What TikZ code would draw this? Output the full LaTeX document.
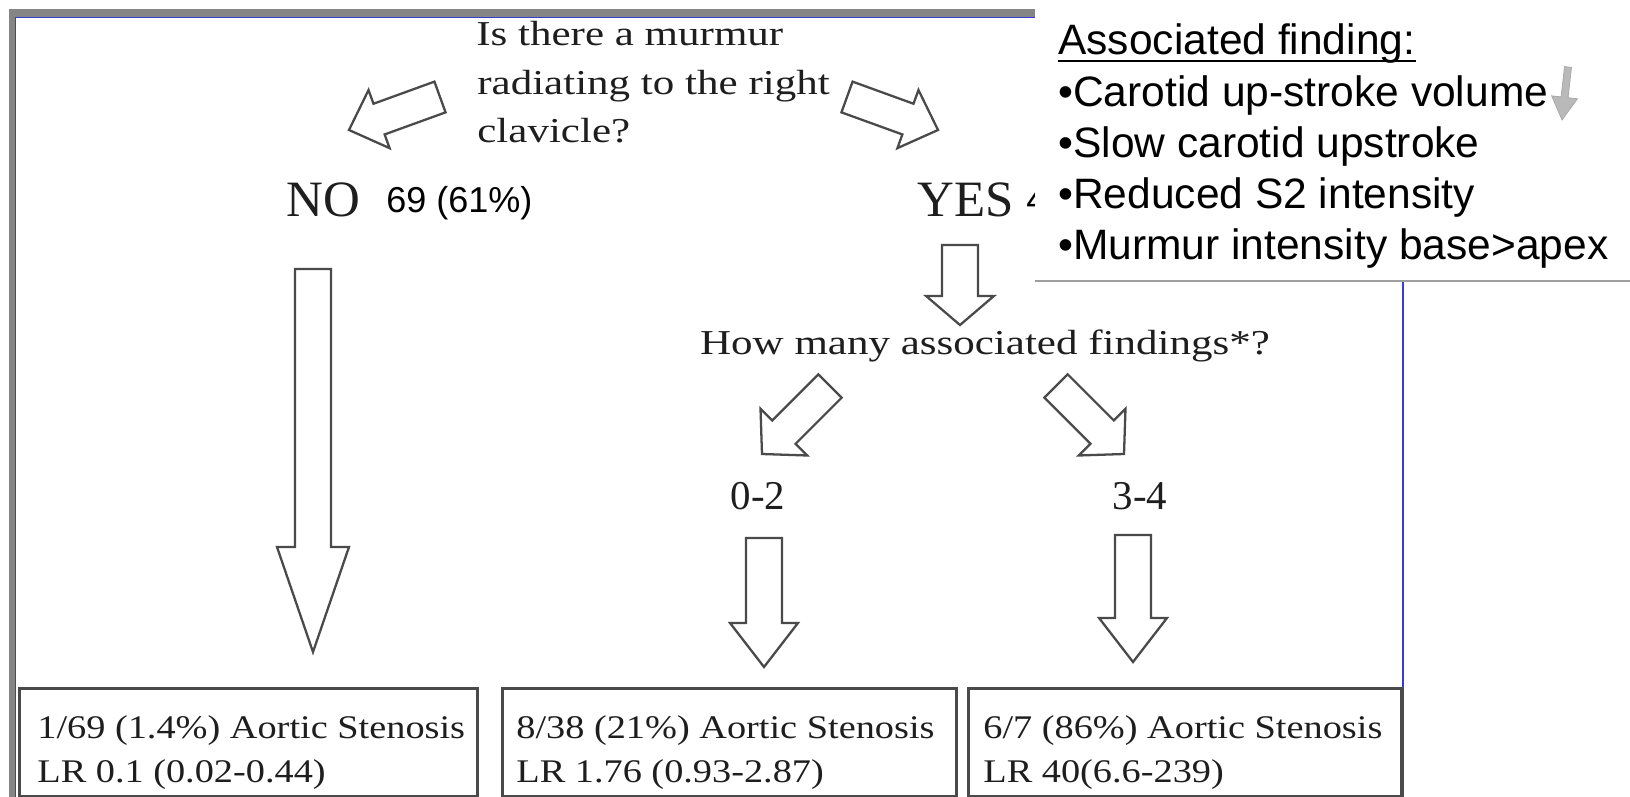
\documentclass[tikz,border=0pt]{standalone}
\usepackage{fontspec}
\setmainfont{Liberation Serif}
\newfontfamily\arialfont{Liberation Sans}
\newfontfamily\wideserif[FakeStretch=1.23]{Liberation Serif}
\newfontfamily\boxserif[FakeStretch=1.16]{Liberation Serif}
\usepackage{xcolor}
\usetikzlibrary{calc}
\definecolor{framegray}{HTML}{858585}
\definecolor{frameblue}{HTML}{3A3AD8}
\definecolor{ink}{HTML}{1E1E1E}
\definecolor{edge}{HTML}{4A4A4A}
\tikzset{
blockarrow/.style n args={3}{
	to path={
		($(\tikztostart)!#1!90:(\tikztotarget)$)
		-- ($($(\tikztotarget)!#3!(\tikztostart)$)!#1!-90:(\tikztostart)$)
		-- ($($(\tikztotarget)!#3!(\tikztostart)$)!#2!-90:(\tikztostart)$)
		-- (\tikztotarget)
		-- ($($(\tikztotarget)!#3!(\tikztostart)$)!#2!90:(\tikztostart)$)
		-- ($($(\tikztotarget)!#3!(\tikztostart)$)!#1!90:(\tikztostart)$)
		-- ($(\tikztostart)!#1!-90:(\tikztotarget)$)
		-- cycle
	}
},
arrowwidth/.style={line width=1.3pt},
arrowbody/.style={draw=edge, fill=white, arrowwidth, line join=miter},
question/.style={font=\wideserif\fontsize{19.9}{24}\selectfont, text=ink, inner sep=0pt, anchor=base west},
answer/.style={font=\fontsize{29}{34}\selectfont, text=ink, inner sep=0pt, anchor=base west},
tally/.style={font=\arialfont\fontsize{20.5}{24}\selectfont, inner sep=0pt, anchor=base west},
branch/.style={font=\fontsize{23.3}{28}\selectfont, text=ink, inner sep=0pt, anchor=base},
result/.style={draw=edge, line width=1.5pt, inner sep=0pt, minimum height=2.16cm, anchor=north west},
resulttext/.style={font=\boxserif\fontsize{18.8}{22}\selectfont, text=ink, inner sep=0pt, anchor=base west},
finding/.style={font=\arialfont\fontsize{24.2}{29}\selectfont, inner sep=0pt, anchor=base west},
}

\begin{document}
\begin{tikzpicture}[x=0.02cm, y=-0.02cm]
	\useasboundingbox (0,0) rectangle (1630,797);
	\fill[white] (0,0) rectangle (1630,797);
	\clip (0,0) rectangle (1630,797);
	
	% slide frame
	\fill[framegray] (9,9) rectangle (1035,17);
	\fill[framegray] (9,9) rectangle (15,797);
	\draw[frameblue, line width=0.9pt] (15.5,797) -- (15.5,17.5) -- (1035,17.5);
	\draw[frameblue, line width=1.4pt] (1403,282) -- (1403,797);
	
	% question
	\node[question] (q1) at (476,46) {Is there a murmur};
	\node[question] (q2) at (477,95) {radiating to the right};
	\node[question] (q3) at (477,143) {clavicle?};
	
	\coordinate (tQL) at (440,97);
	\coordinate (pQL) at (349,130);
	\coordinate (tQR) at (847,97);
	\coordinate (pQR) at (938,130);
	\draw[arrowbody, blockarrow={9.3pt}{17.6pt}{18.2pt}] (tQL) to (pQL);
	\draw[arrowbody, blockarrow={9.3pt}{17.6pt}{18.2pt}] (tQR) to (pQR);
	
	% answers
	\node[answer] (no) at (286,217) {NO};
	\node[tally] (nocount) at (386,213) {69 (61\%)};
	\node[answer] (yes) at (917,217) {YES};
	\node[tally] (yescount) at (1026,213) {4};
	
	% NO branch
	\coordinate (tNo) at (313,269);
	\coordinate (pNo) at (313,652);
	\draw[arrowbody, blockarrow={10.2pt}{20.5pt}{59.8pt}] (tNo) to (pNo);
	
	% YES branch
	\coordinate (tYes) at (960,245);
	\coordinate (pYes) at (960,325);
	\draw[arrowbody, blockarrow={10.2pt}{19.3pt}{16.5pt}] (tYes) to (pYes);
	
	\node[question, anchor=base] (howmany) at (985,355) {How many associated findings*?};
	
	\coordinate (tDL) at (830,386);
	\coordinate (pDL) at (762,454);
	\coordinate (tDR) at (1056,386);
	\coordinate (pDR) at (1124,454);
	\draw[arrowbody, blockarrow={9.4pt}{18.8pt}{17.6pt}] (tDL) to (pDL);
	\draw[arrowbody, blockarrow={9.4pt}{18.8pt}{17.6pt}] (tDR) to (pDR);
	
	\node[branch] (few) at (758,509) {0-2};
	\node[branch] (many) at (1140,509) {3-4};
	
	\coordinate (tFew) at (764,538);
	\coordinate (pFew) at (764,667);
	\coordinate (tMany) at (1133,535);
	\coordinate (pMany) at (1133,662);
	\draw[arrowbody, blockarrow={10.2pt}{19.3pt}{25pt}] (tFew) to (pFew);
	\draw[arrowbody, blockarrow={10.2pt}{19.3pt}{25pt}] (tMany) to (pMany);
	
	% results
	\node[result, minimum width=9.16cm] (res1) at (18,687) {};
	\node[result, minimum width=9.08cm] (res2) at (501,687) {};
	\node[result, minimum width=8.66cm] (res3) at (967,687) {};
	
	\node[resulttext] (r1a) at (37,738) {1/69 (1.4\%) Aortic Stenosis};
	\node[resulttext] (r1b) at (37,782) {LR 0.1 (0.02-0.44)};
	\node[resulttext] (r2a) at (516,738) {8/38 (21\%) Aortic Stenosis};
	\node[resulttext] (r2b) at (516,782) {LR 1.76 (0.93-2.87)};
	\node[resulttext] (r3a) at (983,738) {6/7 (86\%) Aortic Stenosis};
	\node[resulttext] (r3b) at (983,782) {LR 40(6.6-239)};
	
	% associated findings panel
	\fill[white] (1035,0) rectangle (1630,280);
	\draw[gray!75, line width=1.7pt] (1035,281) -- (1630,281);
	
	\foreach \txt [count=\i from 0] in {Associated finding:, •Carotid up-stroke volume, •Slow carotid upstroke, •Reduced S2 intensity, •Murmur intensity base>apex}
		\node[finding] (find\i) at (1058,{55+51.25*\i}) {\txt};
	\draw[line width=1.4pt] ([yshift=-3.4pt]find0.base west) -- ([yshift=-3.4pt]find0.base east);
	
	\coordinate (tDown) at (1568,67);
	\coordinate (pDown) at (1562,120);
	\draw[draw=gray!70, fill=gray!55, line width=0.4pt, blockarrow={2pt}{7.4pt}{13pt}] (tDown) to (pDown);
\end{tikzpicture}
\end{document}
